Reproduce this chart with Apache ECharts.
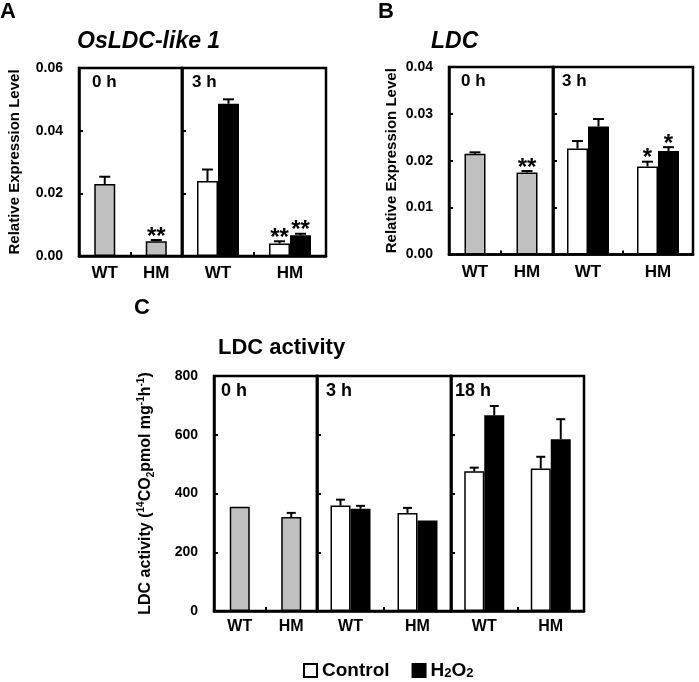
<!DOCTYPE html>
<html><head><meta charset="utf-8">
<script src="https://cdn.jsdelivr.net/npm/echarts@6/dist/echarts.min.js"></script>
<style>html,body{margin:0;padding:0;background:#fff}#c{width:699px;height:682px}</style>
</head><body><div id="c"></div>
<script>
const FONT = '"Liberation Sans", Arial, sans-serif';
const categories = ['WT', 'HM'];
const legendNames = ['Control', 'H2O2'];

// Panel A : OsLDC-like 1
const aTitle = 'OsLDC-like 1';
const aTicks = [0, 0.02, 0.04, 0.06];
const a0h = [0.0230, 0.0047];
const a0hErr = [0.0023, 0.0004];
const a0hSig = ['', '**'];
const a3hControl = [0.0239, 0.0040];
const a3hControlErr = [0.0037, 0.0007];
const a3hControlSig = ['', '**'];
const a3hH2O2 = [0.0486, 0.0066];
const a3hH2O2Err = [0.0014, 0.0005];
const a3hH2O2Sig = ['', '**'];

// Panel B : LDC
const bTitle = 'LDC';
const bTicks = [0, 0.01, 0.02, 0.03, 0.04];
const b0h = [0.0215, 0.0175];
const b0hErr = [0.0003, 0.0003];
const b0hSig = ['', '**'];
const b3hControl = [0.0226, 0.0188];
const b3hControlErr = [0.0016, 0.0010];
const b3hControlSig = ['', '*'];
const b3hH2O2 = [0.0273, 0.0221];
const b3hH2O2Err = [0.0016, 0.0008];
const b3hH2O2Sig = ['', '*'];

// Panel C : LDC activity
const cTitle = 'LDC activity';
const cTicks = [0, 200, 400, 600, 800];
const c0h = [355, 320];
const c0hErr = [0, 14];
const c3hControl = [359, 334];
const c3hControlErr = [20, 17];
const c3hH2O2 = [348, 308];
const c3hH2O2Err = [10, 0];
const c18hControl = [476, 485];
const c18hControlErr = [12, 40];
const c18hH2O2 = [666, 585];
const c18hH2O2Err = [32, 68];
const noSig = ['', ''];

const GRAY = '#c0c0c0';

function grid(left, top, width, height) {
  return { left, top, width, height, show: true, borderColor: '#000', borderWidth: 2.5,
    backgroundColor: 'transparent' };
}
function xAx(gi, fontSize, margin) {
  return { type: 'category', gridIndex: gi, data: categories,
    axisLine: { show: true, lineStyle: { color: '#000', width: 2.5 } },
    axisTick: { show: true, inside: true, length: 4, lineStyle: { color: '#000', width: 2 } },
    axisLabel: { color: '#000', fontWeight: 'bold', fontSize, fontFamily: FONT, margin },
    splitLine: { show: false } };
}
function yAx(gi, ticks, showLabel, digits, name, nameGap, nameStyle) {
  const o = { type: 'value', gridIndex: gi, min: ticks[0], max: ticks[ticks.length - 1],
    interval: ticks[1] - ticks[0],
    axisLine: { show: true, lineStyle: { color: '#000', width: 2.5 } },
    axisTick: { show: true, inside: true, length: 4, lineStyle: { color: '#000', width: 2 } },
    axisLabel: { show: showLabel, color: '#000', fontWeight: 'bold', fontSize: 14, fontFamily: FONT,
      margin: 16, formatter: v => v.toFixed(digits) },
    splitLine: { show: false } };
  if (name) {
    o.name = name; o.nameLocation = 'middle'; o.nameGap = nameGap;
    o.nameTextStyle = nameStyle;
  }
  return o;
}
function bar(name, gi, data, color, barWidth) {
  return { type: 'bar', name, xAxisIndex: gi, yAxisIndex: gi, data, barWidth, barGap: '0%',
    itemStyle: { color, borderColor: '#000', borderWidth: 1.5 }, z: 3, silent: true };
}
function err(gi, vals, errs, sigs, idx, n, barW, capW, sigSize) {
  return { type: 'custom', xAxisIndex: gi, yAxisIndex: gi, z: 6, silent: true, clip: false,
    data: vals.map((v, i) => [i, v, errs[i]]),
    renderItem(params, api) {
      const i = params.dataIndex;
      const base = api.coord([api.value(0), api.value(1)]);
      const top = api.coord([api.value(0), api.value(1) + api.value(2)]);
      const x = base[0] + (idx - (n - 1) / 2) * barW;
      const children = [];
      if (api.value(2) > 0) {
        children.push({ type: 'line', shape: { x1: x, y1: base[1], x2: x, y2: top[1] },
          style: { stroke: '#000', lineWidth: 2 } });
        children.push({ type: 'line', shape: { x1: x - capW / 2, y1: top[1], x2: x + capW / 2, y2: top[1] },
          style: { stroke: '#000', lineWidth: 2 } });
      }
      if (sigs[i]) {
        children.push({ type: 'text', x: x, y: top[1] - 3,
          style: { text: sigs[i], fill: '#000', fontSize: sigSize, fontWeight: 'bold', fontFamily: FONT,
            align: 'center', verticalAlign: 'middle' } });
      }
      return { type: 'group', children };
    } };
}
function label(text, left, top, size, italic) {
  return { text, left, top, padding: 0,
    textStyle: { fontSize: size, fontWeight: 'bold', fontStyle: italic ? 'italic' : 'normal',
      fontFamily: FONT, color: '#000' } };
}

const relName = { fontSize: 15, fontWeight: 'bold', fontFamily: FONT, color: '#000' };
const cName = { fontSize: 16, fontWeight: 'bold', fontFamily: FONT, color: '#000',
  rich: {
    n: { fontSize: 16, fontWeight: 'bold', fontFamily: FONT, color: '#000', lineHeight: 20 },
    sup: { fontSize: 10, fontWeight: 'bold', fontFamily: FONT, color: '#000', verticalAlign: 'top' },
    sub: { fontSize: 10, fontWeight: 'bold', fontFamily: FONT, color: '#000', verticalAlign: 'bottom' }
  } };

const option = {
  animation: false,
  backgroundColor: '#fff',
  title: [
    label('A', 0, 1, 22), label('B', 378, 1, 22), label('C', 134, 297, 22),
    label(aTitle, 77, 30, 23, true), label(bTitle, 431, 30, 23, true), label(cTitle, 218, 337, 22),
    label('0 h', 92, 74, 17), label('3 h', 192, 74, 17),
    label('0 h', 461, 73, 17), label('3 h', 562, 73, 17),
    label('0 h', 221, 382, 18), label('3 h', 326, 382, 18), label('18 h', 455, 382, 18)
  ],
  legend: { data: legendNames, left: 298, top: 656, itemWidth: 13, itemHeight: 13, itemGap: 22,
    icon: 'rect', selectedMode: false,
    textStyle: { fontSize: 19, fontWeight: 'bold', fontFamily: FONT, color: '#000',
      rich: { sub: { fontSize: 13, fontWeight: 'bold', fontFamily: FONT, color: '#000', verticalAlign: 'bottom' } } },
    formatter: n => n === 'H2O2' ? 'H{sub|2}O{sub|2}' : n },
  grid: [
    grid(79, 68, 103, 188), grid(182, 68, 144, 188),
    grid(449, 67, 104, 187.5), grid(553, 67, 140, 187.5),
    grid(214, 376, 103, 235), grid(317, 376, 134, 235), grid(451, 376, 133, 235)
  ],
  xAxis: [xAx(0, 17, 9), xAx(1, 17, 9), xAx(2, 17, 9), xAx(3, 17, 9), xAx(4, 16, 8), xAx(5, 16, 8), xAx(6, 16, 8)],
  yAxis: [
    yAx(0, aTicks, true, 2, 'Relative Expression Level', 57, relName),
    yAx(1, aTicks, false, 2),
    yAx(2, bTicks, true, 2, 'Relative Expression Level', 50, relName),
    yAx(3, bTicks, false, 2),
    yAx(4, cTicks, true, 0, '{n|LDC activity (}{sup|14}{n|CO}{sub|2}{n|pmol mg}{sup|-1}{n|h}{sup|-1}{n|)}', 58, cName),
    yAx(5, cTicks, false, 0),
    yAx(6, cTicks, false, 0)
  ],
  series: [
    bar('A 0 h', 0, a0h, GRAY, 21), err(0, a0h, a0hErr, a0hSig, 0, 1, 21, 11, 24),
    bar('Control', 1, a3hControl, '#fff', 21), bar('H2O2', 1, a3hH2O2, '#000', 21),
    err(1, a3hControl, a3hControlErr, a3hControlSig, 0, 2, 21, 11, 24),
    err(1, a3hH2O2, a3hH2O2Err, a3hH2O2Sig, 1, 2, 21, 11, 24),
    bar('B 0 h', 2, b0h, GRAY, 21), err(2, b0h, b0hErr, b0hSig, 0, 1, 21, 11, 24),
    bar('Control', 3, b3hControl, '#fff', 21), bar('H2O2', 3, b3hH2O2, '#000', 21),
    err(3, b3hControl, b3hControlErr, b3hControlSig, 0, 2, 21, 11, 24),
    err(3, b3hH2O2, b3hH2O2Err, b3hH2O2Sig, 1, 2, 21, 11, 24),
    bar('C 0 h', 4, c0h, GRAY, 20), err(4, c0h, c0hErr, noSig, 0, 1, 20, 9, 24),
    bar('Control', 5, c3hControl, '#fff', 20), bar('H2O2', 5, c3hH2O2, '#000', 20),
    err(5, c3hControl, c3hControlErr, noSig, 0, 2, 20, 9, 24),
    err(5, c3hH2O2, c3hH2O2Err, noSig, 1, 2, 20, 9, 24),
    bar('Control', 6, c18hControl, '#fff', 20), bar('H2O2', 6, c18hH2O2, '#000', 20),
    err(6, c18hControl, c18hControlErr, noSig, 0, 2, 20, 9, 24),
    err(6, c18hH2O2, c18hH2O2Err, noSig, 1, 2, 20, 9, 24)
  ]
};
const chart = echarts.init(document.getElementById('c'), null, { renderer: 'canvas' });
chart.setOption(option);
</script>
</body></html>
